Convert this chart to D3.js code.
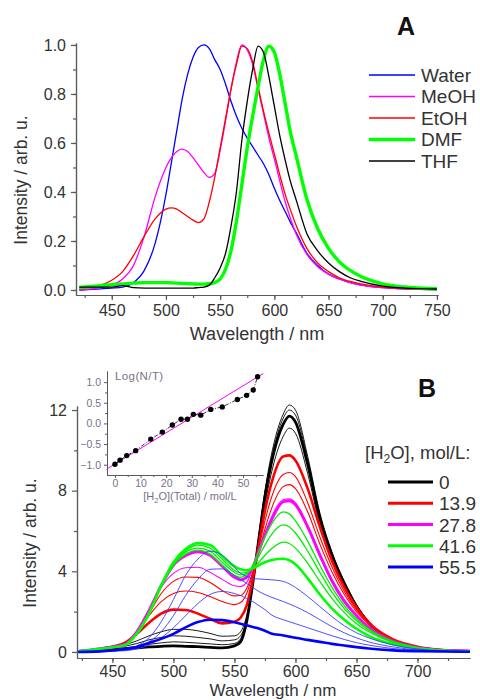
<!DOCTYPE html>
<html><head><meta charset="utf-8">
<script src="https://cdn.jsdelivr.net/npm/d3@7"></script>
<style>body{margin:0;background:#fff}svg{display:block}text{font-family:"Liberation Sans",Arial,sans-serif}</style>
</head><body><svg id="c" width="480" height="700"></svg>
<script>
// ---------- Panel A data ----------
const gridA = [420,440,450,460,470,480,490,500,505,510,515,520,525,530,535,540,545,550,555,560,565,570,575,580,585,590,595,600,605,610,615,620,630,640,650,660,670,680,700,720,750];
const water = [0.0,0.005,0.008,0.012,0.03, 0.08,0.19,0.39,0.52,0.65, 0.78,0.88,0.95,0.99,1.0, 0.985,0.94,0.9,0.84,0.77, 0.71,0.66,0.62,0.585,0.55, 0.515,0.47,0.415,0.365,0.32, 0.275,0.235,0.15,0.1,0.065, 0.045,0.03,0.02,0.01,0.005, 0.002];
const meoh  = [0.0,0.01,0.02,0.045,0.1, 0.22,0.38,0.5,0.54,0.565, 0.575,0.565,0.54,0.51,0.48, 0.46,0.475,0.57,0.69,0.82, 0.93,1.0,0.98,0.92,0.82, 0.72,0.62,0.535,0.445,0.36, 0.29,0.23,0.145,0.095,0.065, 0.045,0.03,0.02,0.01,0.005, 0.002];
const etoh  = [0.005,0.02,0.04,0.075,0.14, 0.22,0.29,0.33,0.335,0.33, 0.315,0.3,0.285,0.275,0.29, 0.36,0.46,0.58,0.7,0.82, 0.92,0.995,0.985,0.93,0.83, 0.73,0.64,0.555,0.47,0.39, 0.325,0.265,0.17,0.11,0.075, 0.05,0.035,0.025,0.012,0.006, 0.002];
const dmf   = [0.01,0.018,0.022,0.025,0.028, 0.03,0.03,0.03,0.029,0.028, 0.027,0.026,0.025,0.024,0.024, 0.026,0.03,0.045,0.085,0.16, 0.28,0.43,0.58,0.71,0.83, 0.94,0.995,0.97,0.88,0.76, 0.64,0.55,0.37,0.25,0.17, 0.115,0.08,0.055,0.025,0.012, 0.005];
const thf   = [0.012,0.012,0.012,0.018,0.01, 0.008,0.008,0.008,0.008,0.008, 0.008,0.008,0.008,0.01,0.012, 0.02,0.05,0.09,0.15,0.26, 0.4,0.61,0.77,0.9,0.995, 0.97,0.87,0.75,0.63,0.53, 0.44,0.37,0.23,0.16,0.11, 0.075,0.05,0.035,0.016,0.008, 0.004];
const legendA = ["Water","MeOH","EtOH","DMF","THF"];
const ticksAx = [450,500,550,600,650,700,750];
const ticksAy = [0,0.2,0.4,0.6,0.8,1.0];

// ---------- Panel B data ----------
const gridB = [422,440,460,470,480,490,500,510,520,530,540,550,555,560,565,570,575,580,590,595,600,610,620,630,640,650,660,680,700,720,743];
const blk0  = [0.03,0.08,0.15,0.2,0.25,0.28,0.3,0.28,0.26,0.23,0.2,0.3,0.5,1.5,3.4,5.6,7.7,9.3,11.3,11.7,11.4,9.3,6.6,4.75,3.4,2.25,1.45,0.55,0.22,0.08,0.03];
const blkA  = [0.03,0.1,0.2,0.28,0.38,0.45,0.5,0.48,0.44,0.4,0.36,0.42,0.65,1.6,3.5,5.8,8.0,9.7,11.8,12.25,12.0,9.7,6.9,4.95,3.5,2.35,1.5,0.57,0.23,0.08,0.03];
const blkB  = [0.03,0.12,0.28,0.42,0.6,0.72,0.8,0.78,0.72,0.65,0.55,0.6,0.8,1.65,3.5,5.7,7.9,9.5,11.6,12.0,11.75,9.55,6.8,4.9,3.45,2.3,1.48,0.56,0.22,0.08,0.03];
const blkC  = [0.03,0.14,0.35,0.55,0.8,1.0,1.12,1.12,1.05,0.92,0.78,0.8,1.0,1.8,3.4,5.4,7.3,8.8,10.7,11.1,10.85,8.85,6.3,4.55,3.25,2.2,1.42,0.55,0.22,0.08,0.03];
const red139 = [0.03,0.15,0.45,0.9,1.45,1.9,2.1,2.08,1.9,1.65,1.42,1.5,1.7,2.3,3.6,5.3,7.0,8.3,9.7,9.75,9.5,8.1,6.2,4.5,3.2,2.2,1.45,0.62,0.26,0.1,0.04];
const redA  = [0.03,0.17,0.42,0.95,1.8,2.5,2.9,3.02,2.95,2.75,2.5,2.35,2.45,2.9,3.9,5.2,6.5,7.6,8.8,8.9,8.7,7.4,5.7,4.2,3.0,2.1,1.42,0.62,0.26,0.1,0.04];
const redB  = [0.03,0.17,0.4,1.0,1.9,2.9,3.5,3.72,3.7,3.45,3.05,2.78,2.8,3.15,3.95,5.0,6.1,7.05,8.2,8.3,8.1,6.95,5.35,3.95,2.85,2.0,1.38,0.6,0.25,0.1,0.04];
const mag278 = [0.03,0.17,0.36,1.0,2.05,3.3,4.3,4.78,4.97,4.8,4.25,3.7,3.58,3.7,4.2,5.0,5.8,6.5,7.45,7.5,7.3,6.2,4.8,3.5,2.5,1.8,1.22,0.53,0.22,0.09,0.04];
const magA  = [0.03,0.17,0.38,1.0,2.0,3.2,3.9,4.18,4.2,3.95,3.6,3.28,3.25,3.45,4.1,4.95,5.85,6.65,7.55,7.6,7.4,6.3,4.9,3.6,2.6,1.85,1.25,0.55,0.23,0.09,0.04];
const grn416 = [0.03,0.16,0.33,0.9,1.9,3.3,4.45,5.1,5.4,5.3,4.75,4.25,4.1,4.05,4.15,4.3,4.45,4.55,4.62,4.55,4.35,3.65,2.85,2.15,1.6,1.15,0.8,0.38,0.17,0.07,0.03];
const grnA  = [0.03,0.16,0.34,0.95,1.95,3.25,4.3,4.85,5.05,4.85,4.3,3.8,3.7,3.85,4.3,5.0,5.7,6.3,6.95,6.85,6.5,5.5,4.3,3.2,2.3,1.65,1.15,0.52,0.22,0.09,0.04];
const grnB  = [0.03,0.16,0.34,0.92,1.92,3.28,4.35,4.95,5.15,5.0,4.45,3.95,3.82,3.9,4.2,4.75,5.3,5.8,6.3,6.2,5.9,5.0,3.95,2.95,2.15,1.55,1.08,0.5,0.21,0.09,0.04];
const grnC  = [0.03,0.16,0.33,0.9,1.9,3.3,4.4,5.02,5.3,5.15,4.6,4.05,3.92,3.95,4.15,4.45,4.8,5.1,5.45,5.38,5.15,4.4,3.5,2.65,1.95,1.4,1.0,0.46,0.2,0.08,0.03];
const blu555 = [0.0,0.03,0.15,0.25,0.45,0.65,0.9,1.22,1.48,1.6,1.58,1.47,1.4,1.32,1.24,1.16,1.05,0.92,0.82,0.76,0.7,0.6,0.5,0.4,0.32,0.24,0.17,0.08,0.04,0.02,0.01];
const bluA  = [0.0,0.03,0.1,0.3,0.7,1.5,2.6,3.8,4.6,5.0,4.8,4.2,3.9,3.75,3.65,3.62,3.6,3.58,3.5,3.38,3.2,2.75,2.25,1.75,1.3,0.95,0.7,0.35,0.15,0.06,0.02];
const bluB  = [0.0,0.03,0.08,0.22,0.5,1.0,1.8,2.8,3.6,4.1,4.12,3.8,3.6,3.4,3.2,3.0,2.85,2.72,2.5,2.38,2.25,1.95,1.6,1.25,0.95,0.7,0.5,0.25,0.1,0.04,0.02];
const bluC  = [0.0,0.03,0.06,0.15,0.35,0.7,1.2,1.8,2.4,2.85,3.0,2.9,2.8,2.65,2.5,2.3,2.1,1.85,1.6,1.5,1.4,1.2,1.0,0.8,0.62,0.46,0.34,0.17,0.08,0.03,0.01];
const legendB = ["0","13.9","27.8","41.6","55.5"];
const ticksBx = [450,500,550,600,650,700];
const ticksBy = [0,4,8,12];

// ---------- Inset data ----------
const ntX = [0,2,4.6,8.1,14,18.5,22.4,25.8,28.3,30.6,33.5,37.4,41.9,47.8,51.4,54,55.7];
const ntY = [-0.99,-0.89,-0.78,-0.66,-0.38,-0.21,-0.04,0.10,0.10,0.22,0.20,0.34,0.40,0.58,0.68,0.81,1.13];
const fitX = [-3.3,57.9];
const fitY = [-1.11,1.21];
const ticksIx = [0,10,20,30,40,50];
const ticksIy = [-1.0,-0.5,0.0,0.5,1.0];

const svg = d3.select("#c");
svg.append("rect").attr("width",480).attr("height",700).attr("fill","#fff");
const AX = "#5a5a5a", TX = "#333";

function drawAxes(g, x, y, o) {
  const bx = g.append("g").attr("transform",`translate(0,${o.ybase})`)
    .call(d3.axisBottom(x).tickValues(o.xmin).tickSize(o.minor).tickSizeOuter(0).tickFormat(""));
  const bX = g.append("g").attr("transform",`translate(0,${o.ybase})`)
    .call(d3.axisBottom(x).tickValues(o.xt).tickSize(o.major).tickSizeOuter(0).tickPadding(o.xpad).tickFormat(o.xf));
  const ly = g.append("g").attr("transform",`translate(${o.xbase},0)`)
    .call(d3.axisLeft(y).tickValues(o.ymin).tickSize(o.minor).tickSizeOuter(0).tickFormat(""));
  const lY = g.append("g").attr("transform",`translate(${o.xbase},0)`)
    .call(d3.axisLeft(y).tickValues(o.yt).tickSize(o.major).tickSizeOuter(0).tickPadding(o.ypad).tickFormat(o.yf));
  [bx,bX,ly,lY].forEach(a=>{
    a.selectAll("path,line").attr("stroke",AX).attr("stroke-width",o.sw);
    a.selectAll("text").attr("fill",o.tc).attr("font-size",o.fs).attr("font-family",'"Liberation Sans",Arial,sans-serif');
  });
}

// ================= Panel A =================
const xA = d3.scaleLinear().domain([417,751]).range([76,438]);
const yA = d3.scaleLinear().domain([-0.0204,1.008]).range([295,43]);
const gA = svg.append("g");
drawAxes(gA, xA, yA, {ybase:295, xbase:76, xt:ticksAx, xmin:d3.range(425,751,25), yt:ticksAy,
  ymin:d3.range(0,1.01,0.1), major:5, minor:3, xpad:4.5, ypad:5, fs:16, tc:TX, sw:1.2,
  xf:d3.format("d"), yf:d3.format(".1f")});
gA.append("clipPath").attr("id","clipA").append("rect").attr("x",76).attr("y",40).attr("width",362).attr("height",255);
const lineA = d3.line().x((d,i)=>xA(gridA[i])).y(d=>yA(d)).curve(d3.curveMonotoneX);
const seriesA = [
  {v:water, c:"#0000ff", w:1.3},
  {v:meoh,  c:"#ff00ff", w:1.3},
  {v:etoh,  c:"#ff0000", w:1.3},
  {v:dmf,   c:"#00ff00", w:3.4},
  {v:thf,   c:"#000000", w:1.3}
];
const pA = gA.append("g").attr("clip-path","url(#clipA)");
seriesA.forEach(s=>pA.append("path").attr("d",lineA(s.v)).attr("fill","none").attr("stroke",s.c).attr("stroke-width",s.w).attr("stroke-linejoin","round"));
// legend A
const legYA = d3.scalePoint().domain(legendA).range([75,161]);
legendA.forEach((n,i)=>{
  gA.append("line").attr("x1",369).attr("x2",415).attr("y1",legYA(n)).attr("y2",legYA(n))
    .attr("stroke",seriesA[i].c).attr("stroke-width",seriesA[i].w===3.4?3.6:1.5);
  gA.append("text").attr("x",421).attr("y",legYA(n)+6.5).attr("font-size",19).attr("fill",TX).text(n);
});
gA.append("text").attr("x",397).attr("y",35).attr("font-size",25).attr("font-weight","bold").attr("fill","#111").text("A");
gA.append("text").attr("x",257).attr("y",340).attr("text-anchor","middle").attr("font-size",18).attr("fill",TX).text("Wavelength / nm");
gA.append("text").attr("transform","translate(27,180) rotate(-90)").attr("text-anchor","middle").attr("font-size",17.5).attr("fill",TX).text("Intensity / arb. u.");

// ================= Panel B =================
const xB = d3.scaleLinear().domain([421,743]).range([77,470]);
const yB = d3.scaleLinear().domain([-0.3,12.2]).range([658,406]);
const gB = svg.append("g");
drawAxes(gB, xB, yB, {ybase:658, xbase:77, xt:ticksBx, xmin:d3.range(425,743,25), yt:ticksBy,
  ymin:[2,6,10], major:5, minor:3, xpad:2.4, ypad:5, fs:16, tc:TX, sw:1.2,
  xf:d3.format("d"), yf:d3.format("d")});
gB.append("clipPath").attr("id","clipB").append("rect").attr("x",77).attr("y",395).attr("width",393).attr("height",263);
const lineB = d3.line().x((d,i)=>xB(gridB[i])).y(d=>yB(d)).curve(d3.curveMonotoneX);
const seriesB = [
  {v:blkA, c:"#000", w:0.9}, {v:blkB, c:"#000", w:0.9}, {v:blkC, c:"#000", w:0.9}, {v:blk0, c:"#000", w:2.8},
  {v:redA, c:"#ff0000", w:1.1}, {v:redB, c:"#ff0000", w:1.1}, {v:red139, c:"#ff0000", w:2.6},
  {v:magA, c:"#ff00ff", w:1.1}, {v:mag278, c:"#ff00ff", w:2.8},
  {v:grnA, c:"#00ee00", w:1.3}, {v:grnB, c:"#00ee00", w:1.3}, {v:grnC, c:"#00ee00", w:1.3}, {v:grn416, c:"#00ff00", w:2.6},
  {v:bluA, c:"#3a3aff", w:0.9}, {v:bluB, c:"#3a3aff", w:0.9}, {v:bluC, c:"#3a3aff", w:0.9}, {v:blu555, c:"#0000ff", w:2.6}
];
const pB = gB.append("g").attr("clip-path","url(#clipB)");
seriesB.forEach(s=>pB.append("path").attr("d",lineB(s.v)).attr("fill","none").attr("stroke",s.c).attr("stroke-width",s.w).attr("stroke-linejoin","round"));
// legend B
const legCols = ["#000","#ff0000","#ff00ff","#00ff00","#0000ff"];
const legYB = d3.scalePoint().domain(legendB).range([482,567]);
legendB.forEach((n,i)=>{
  gB.append("line").attr("x1",388).attr("x2",433).attr("y1",legYB(n)).attr("y2",legYB(n)).attr("stroke",legCols[i]).attr("stroke-width",2.8);
  gB.append("text").attr("x",439).attr("y",legYB(n)+7).attr("font-size",19).attr("fill",TX).text(n);
});
const lt = gB.append("text").attr("x",365).attr("y",459).attr("font-size",18.5).attr("fill",TX);
lt.append("tspan").text("[H");
lt.append("tspan").attr("font-size",12).attr("dy",4).text("2");
lt.append("tspan").attr("dy",-4).text("O], mol/L:");
gB.append("text").attr("x",418).attr("y",397).attr("font-size",25).attr("font-weight","bold").attr("fill","#111").text("B");
gB.append("text").attr("x",273).attr("y",696).attr("text-anchor","middle").attr("font-size",17).attr("fill",TX).text("Wavelength / nm");
gB.append("text").attr("transform","translate(36,543) rotate(-90)").attr("text-anchor","middle").attr("font-size",17.5).attr("fill",TX).text("Intensity / arb. u.");

// ================= Inset =================
const IC = "#7a6f8a";
const xI = d3.scaleLinear().domain([-3.1,57.8]).range([107,263]);
const yI = d3.scaleLinear().domain([-1.25,1.27]).range([475,371]);
const gI = svg.append("g");
drawAxes(gI, xI, yI, {ybase:475, xbase:107, xt:ticksIx, xmin:d3.range(5,56,10), yt:ticksIy,
  ymin:[-0.75,-0.25,0.25,0.75], major:3, minor:2, xpad:2, ypad:3, fs:10.5, tc:IC, sw:1,
  xf:d3.format("d"), yf:d3.format(".1f")});
const fitLine = d3.line().x((d,i)=>xI(fitX[i])).y(d=>yI(d));
gI.append("path").attr("d",fitLine(fitY)).attr("fill","none").attr("stroke","#ff00ff").attr("stroke-width",1);
const ntLine = d3.line().x((d,i)=>xI(ntX[i])).y(d=>yI(d));
gI.append("path").attr("d",ntLine(ntY)).attr("fill","none").attr("stroke","#000").attr("stroke-width",0.8).attr("stroke-dasharray","4,1.5,1,1.5");
gI.selectAll("circle.nt").data(ntY).enter().append("circle")
  .attr("cx",(d,i)=>xI(ntX[i])).attr("cy",d=>yI(d)).attr("r",2.7).attr("fill","#000");
gI.append("text").attr("x",115).attr("y",380).attr("font-size",11.5).attr("fill",IC).attr("letter-spacing",0.4).text("Log(N/T)");
const it = gI.append("text").attr("x",190).attr("y",500).attr("text-anchor","middle").attr("font-size",11).attr("fill",IC);
it.append("tspan").text("[H");
it.append("tspan").attr("font-size",7.5).attr("dy",3).text("2");
it.append("tspan").attr("dy",-3).text("O](Total) / mol/L");
</script></body></html>
